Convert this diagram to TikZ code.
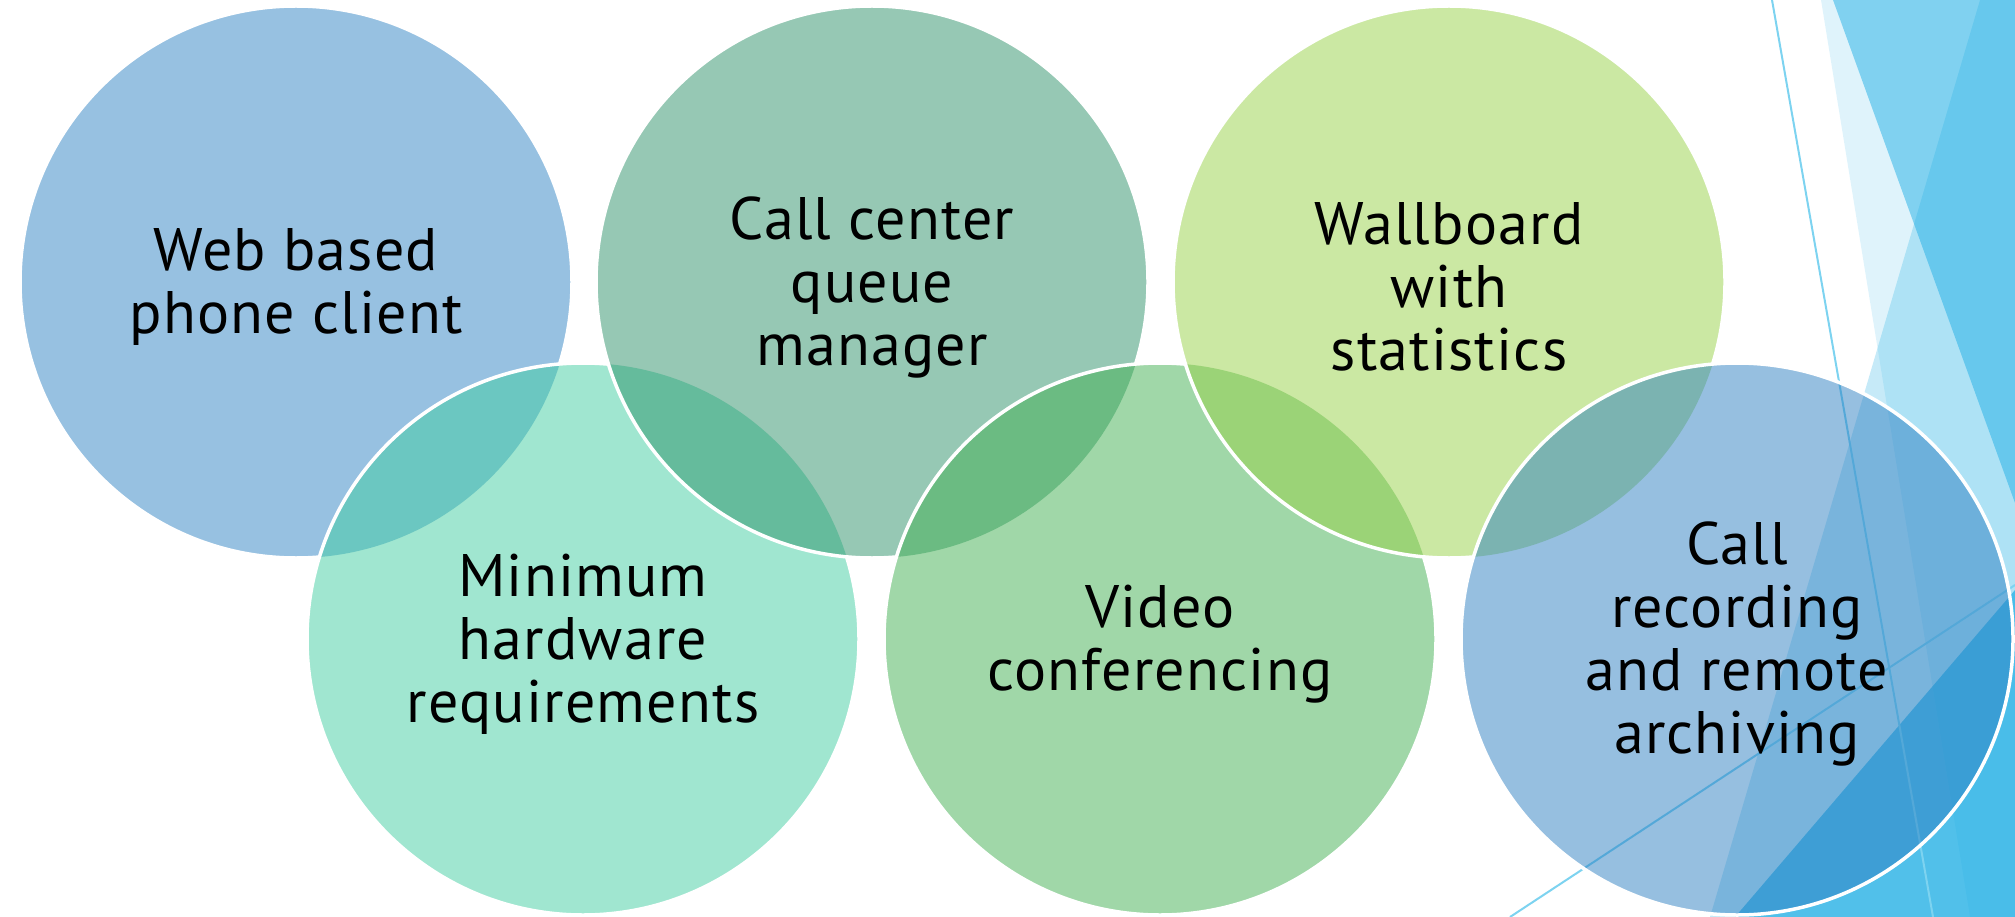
\documentclass[tikz,border=0pt]{standalone}
\usepackage{fontspec}
\setmainfont{PT Sans}
\definecolor{facet}{RGB}{28,173,228}
\definecolor{cA}{RGB}{47,131,195}
\definecolor{cB}{RGB}{45,145,105}
\definecolor{cC}{RGB}{151,209,71}
\definecolor{cM}{RGB}{65,205,161}
\definecolor{cV}{RGB}{65,175,81}
\definecolor{cR}{RGB}{45,127,193}
\definecolor{thinline}{RGB}{125,211,240}
\tikzset{
  bubble/.style={circle, minimum size=552pt, inner sep=0pt, fill opacity=0.5, draw=none},
  rim/.style={draw=white, line width=3.5pt},
  lbl/.style={align=center, font=\fontsize{60}{63}\selectfont\addfontfeature{LetterSpace=2}, text=black, inner sep=0pt, yshift=-5pt},
  facetpane/.style={fill=facet, draw=none},
  hairline/.style={draw=thinline, line width=2pt}
}
\begin{document}
\begin{tikzpicture}[x=1pt,y=-1pt]
\useasboundingbox (0,0) rectangle (2015,917);
% background facets
\fill[facetpane, fill opacity=0.14] (1821,0) -- (2015,0) -- (2015,917) -- (1970,917) -- cycle;
\fill[facetpane, fill opacity=0.49] (1833,0) -- (2015,0) -- (2015,503) -- cycle;
\fill[facetpane, fill opacity=0.25] (1980,0) -- (2015,0) -- (2015,917) -- (1710,917) -- cycle;
\fill[facetpane, fill opacity=0.69] (1735,917) -- (2015,590) -- (2015,917) -- cycle;
\coordinate (h1a) at (1772,0);
\coordinate (h1b) at (1933,917);
\coordinate (h2a) at (1510,917);
\coordinate (h2b) at (2015,585);
\draw[hairline] (h1a) -- (h1b);
\draw[hairline] (h2a) -- (h2b);
% circles
\node[bubble, fill=cA] (c1) at (296,282) {};
\node[bubble, fill=cM] (m) at (583,639) {};
\begin{scope}[even odd rule]
  \clip (0,0) rectangle (2015,917) (m.center) circle[radius=276pt];
  \draw[rim] (c1.center) circle[radius=276pt];
\end{scope}
\node[bubble, fill=cB] (c2) at (872,282) {};
\begin{scope}[even odd rule]
  \clip (0,0) rectangle (2015,917) (c2.center) circle[radius=276pt];
  \draw[rim] (m.center) circle[radius=276pt];
\end{scope}
\node[bubble, fill=cV] (v) at (1160,639) {};
\begin{scope}[even odd rule]
  \clip (0,0) rectangle (2015,917) (v.center) circle[radius=276pt];
  \draw[rim] (c2.center) circle[radius=276pt];
\end{scope}
\node[bubble, fill=cC] (c3) at (1449,282) {};
\begin{scope}[even odd rule]
  \clip (0,0) rectangle (2015,917) (c3.center) circle[radius=276pt];
  \draw[rim] (v.center) circle[radius=276pt];
\end{scope}
\node[bubble, fill=cR] (r) at (1737,639) {};
\begin{scope}[even odd rule]
  \clip (0,0) rectangle (2015,917) (r.center) circle[radius=276pt];
  \draw[rim] (c3.center) circle[radius=276pt];
\end{scope}
\draw[rim] (r.center) circle[radius=276pt];
% labels
\node[lbl] (t1) at (c1.center) {Web based\\phone client};
\node[lbl] (t2) at (c2.center) {Call center\\queue\\manager};
\node[lbl] (t3) at (c3.center) {Wallboard\\with\\statistics};
\node[lbl] (t4) at (m.center) {Minimum\\hardware\\requirements};
\node[lbl] (t5) at (v.center) {Video\\conferencing};
\node[lbl] (t6) at (r.center) {Call\\recording\\and remote\\archiving};
\end{tikzpicture}
\end{document}
